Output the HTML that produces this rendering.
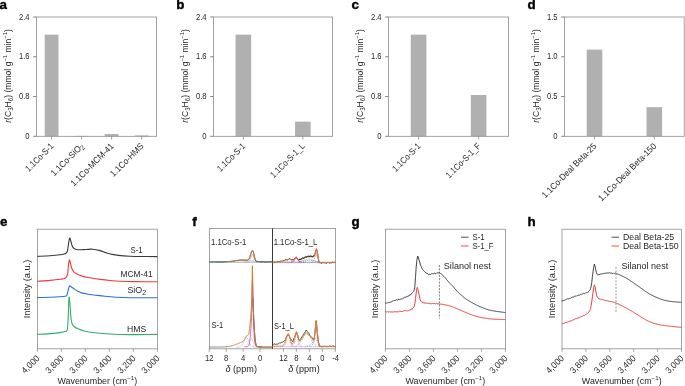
<!DOCTYPE html>
<html><head><meta charset="utf-8"><style>
html,body{margin:0;padding:0;background:#fff;}
body{width:685px;height:386px;overflow:hidden;}
svg{display:block;font-family:"Liberation Sans", sans-serif;will-change:transform;}
</style></head><body>
<svg width="685" height="386" viewBox="0 0 685 386">
<rect width="685" height="386" fill="#fff"/>
<text x="-0.6" y="9" font-size="12.5" text-anchor="start" font-weight="bold" fill="#000" stroke="#000" stroke-width="0.35" textLength="7.44" lengthAdjust="spacingAndGlyphs">a</text>
<text transform="translate(10.6,76) rotate(-90)" font-size="8.8" text-anchor="middle" fill="#231f20" textLength="93.5" lengthAdjust="spacingAndGlyphs"><tspan font-style="italic">r</tspan>(C<tspan font-size="6.4" dy="2.4">3</tspan><tspan dy="-2.4">H</tspan><tspan font-size="6.4" dy="2.4">6</tspan><tspan dy="-2.4">) (mmol g</tspan><tspan font-size="6.0" dy="-3.5">−1</tspan><tspan dy="3.5"> min</tspan><tspan font-size="6.0" dy="-3.5">−1</tspan><tspan dy="3.5">)</tspan></text>
<rect x="44.7" y="34.65" width="13.8" height="101.65" fill="#b0b0b0"/>
<line x1="51.6" y1="136.3" x2="51.6" y2="139.5" stroke="#8c8c8c" stroke-width="0.8" />
<text transform="translate(54.2,146.7) rotate(-45)" font-size="8.9" text-anchor="end" fill="#231f20" textLength="36.12" lengthAdjust="spacingAndGlyphs">1.1Co-S-1</text>
<rect x="74.7" y="135.9" width="13.8" height="0.4" fill="#b0b0b0"/>
<line x1="81.6" y1="136.3" x2="81.6" y2="139.5" stroke="#8c8c8c" stroke-width="0.8" />
<text transform="translate(84.2,146.7) rotate(-45)" font-size="8.9" text-anchor="end" fill="#231f20" textLength="42.27" lengthAdjust="spacingAndGlyphs">1.1Co-SiO<tspan font-size="6.8" dy="2.0">2</tspan></text>
<rect x="104.7" y="134.06" width="13.8" height="2.24" fill="#b0b0b0"/>
<line x1="111.6" y1="136.3" x2="111.6" y2="139.5" stroke="#8c8c8c" stroke-width="0.8" />
<text transform="translate(114.2,146.7) rotate(-45)" font-size="8.9" text-anchor="end" fill="#231f20" textLength="56.73" lengthAdjust="spacingAndGlyphs">1.1Co-MCM-41</text>
<rect x="134.7" y="135.41" width="13.8" height="0.89" fill="#b0b0b0"/>
<line x1="141.6" y1="136.3" x2="141.6" y2="139.5" stroke="#8c8c8c" stroke-width="0.8" />
<text transform="translate(144.2,146.7) rotate(-45)" font-size="8.9" text-anchor="end" fill="#231f20" textLength="43.35" lengthAdjust="spacingAndGlyphs">1.1Co-HMS</text>
<line x1="33.2" y1="136.3" x2="36.6" y2="136.3" stroke="#666" stroke-width="0.8" />
<text x="29.6" y="138.8" font-size="8.5" text-anchor="end" font-weight="normal" fill="#231f20" textLength="4.25" lengthAdjust="spacingAndGlyphs">0</text>
<line x1="33.2" y1="96.53" x2="36.6" y2="96.53" stroke="#666" stroke-width="0.8" />
<text x="29.6" y="99.03" font-size="8.5" text-anchor="end" font-weight="normal" fill="#231f20" textLength="10.63" lengthAdjust="spacingAndGlyphs">0.8</text>
<line x1="33.2" y1="56.77" x2="36.6" y2="56.77" stroke="#666" stroke-width="0.8" />
<text x="29.6" y="59.27" font-size="8.5" text-anchor="end" font-weight="normal" fill="#231f20" textLength="10.63" lengthAdjust="spacingAndGlyphs">1.6</text>
<line x1="33.2" y1="17" x2="36.6" y2="17" stroke="#666" stroke-width="0.8" />
<text x="29.6" y="19.5" font-size="8.5" text-anchor="end" font-weight="normal" fill="#231f20" textLength="10.63" lengthAdjust="spacingAndGlyphs">2.4</text>
<rect x="36.6" y="17" width="120" height="119.3" fill="none" stroke="#8c8c8c" stroke-width="0.8"/>
<text x="176.2" y="9" font-size="12.5" text-anchor="start" font-weight="bold" fill="#000" stroke="#000" stroke-width="0.35" textLength="8.17" lengthAdjust="spacingAndGlyphs">b</text>
<text transform="translate(187.6,76) rotate(-90)" font-size="8.8" text-anchor="middle" fill="#231f20" textLength="93.5" lengthAdjust="spacingAndGlyphs"><tspan font-style="italic">r</tspan>(C<tspan font-size="6.4" dy="2.4">3</tspan><tspan dy="-2.4">H</tspan><tspan font-size="6.4" dy="2.4">6</tspan><tspan dy="-2.4">) (mmol g</tspan><tspan font-size="6.0" dy="-3.5">−1</tspan><tspan dy="3.5"> min</tspan><tspan font-size="6.0" dy="-3.5">−1</tspan><tspan dy="3.5">)</tspan></text>
<rect x="235.55" y="34.65" width="15.6" height="101.65" fill="#b0b0b0"/>
<line x1="243.35" y1="136.3" x2="243.35" y2="139.5" stroke="#8c8c8c" stroke-width="0.8" />
<text transform="translate(245.95,146.7) rotate(-45)" font-size="8.9" text-anchor="end" fill="#231f20" textLength="36.12" lengthAdjust="spacingAndGlyphs">1.1Co-S-1</text>
<rect x="295.05" y="121.64" width="15.6" height="14.66" fill="#b0b0b0"/>
<line x1="302.85" y1="136.3" x2="302.85" y2="139.5" stroke="#8c8c8c" stroke-width="0.8" />
<text transform="translate(305.45,146.7) rotate(-45)" font-size="8.9" text-anchor="end" fill="#231f20" textLength="44.94" lengthAdjust="spacingAndGlyphs">1.1Co-S-1_L</text>
<line x1="210.2" y1="136.3" x2="213.6" y2="136.3" stroke="#666" stroke-width="0.8" />
<text x="206.6" y="138.8" font-size="8.5" text-anchor="end" font-weight="normal" fill="#231f20" textLength="4.25" lengthAdjust="spacingAndGlyphs">0</text>
<line x1="210.2" y1="96.53" x2="213.6" y2="96.53" stroke="#666" stroke-width="0.8" />
<text x="206.6" y="99.03" font-size="8.5" text-anchor="end" font-weight="normal" fill="#231f20" textLength="10.63" lengthAdjust="spacingAndGlyphs">0.8</text>
<line x1="210.2" y1="56.77" x2="213.6" y2="56.77" stroke="#666" stroke-width="0.8" />
<text x="206.6" y="59.27" font-size="8.5" text-anchor="end" font-weight="normal" fill="#231f20" textLength="10.63" lengthAdjust="spacingAndGlyphs">1.6</text>
<line x1="210.2" y1="17" x2="213.6" y2="17" stroke="#666" stroke-width="0.8" />
<text x="206.6" y="19.5" font-size="8.5" text-anchor="end" font-weight="normal" fill="#231f20" textLength="10.63" lengthAdjust="spacingAndGlyphs">2.4</text>
<rect x="213.6" y="17" width="119" height="119.3" fill="none" stroke="#8c8c8c" stroke-width="0.8"/>
<text x="351.6" y="9" font-size="12.5" text-anchor="start" font-weight="bold" fill="#000" stroke="#000" stroke-width="0.35" textLength="7.44" lengthAdjust="spacingAndGlyphs">c</text>
<text transform="translate(362.6,76) rotate(-90)" font-size="8.8" text-anchor="middle" fill="#231f20" textLength="93.5" lengthAdjust="spacingAndGlyphs"><tspan font-style="italic">r</tspan>(C<tspan font-size="6.4" dy="2.4">3</tspan><tspan dy="-2.4">H</tspan><tspan font-size="6.4" dy="2.4">6</tspan><tspan dy="-2.4">) (mmol g</tspan><tspan font-size="6.0" dy="-3.5">−1</tspan><tspan dy="3.5"> min</tspan><tspan font-size="6.0" dy="-3.5">−1</tspan><tspan dy="3.5">)</tspan></text>
<rect x="410.8" y="34.65" width="15.6" height="101.65" fill="#b0b0b0"/>
<line x1="418.6" y1="136.3" x2="418.6" y2="139.5" stroke="#8c8c8c" stroke-width="0.8" />
<text transform="translate(421.2,146.7) rotate(-45)" font-size="8.9" text-anchor="end" fill="#231f20" textLength="36.12" lengthAdjust="spacingAndGlyphs">1.1Co-S-1</text>
<rect x="470.8" y="95.04" width="15.6" height="41.26" fill="#b0b0b0"/>
<line x1="478.6" y1="136.3" x2="478.6" y2="139.5" stroke="#8c8c8c" stroke-width="0.8" />
<text transform="translate(481.2,146.7) rotate(-45)" font-size="8.9" text-anchor="end" fill="#231f20" textLength="45.37" lengthAdjust="spacingAndGlyphs">1.1Co-S-1_F</text>
<line x1="385.2" y1="136.3" x2="388.6" y2="136.3" stroke="#666" stroke-width="0.8" />
<text x="381.6" y="138.8" font-size="8.5" text-anchor="end" font-weight="normal" fill="#231f20" textLength="4.25" lengthAdjust="spacingAndGlyphs">0</text>
<line x1="385.2" y1="96.53" x2="388.6" y2="96.53" stroke="#666" stroke-width="0.8" />
<text x="381.6" y="99.03" font-size="8.5" text-anchor="end" font-weight="normal" fill="#231f20" textLength="10.63" lengthAdjust="spacingAndGlyphs">0.8</text>
<line x1="385.2" y1="56.77" x2="388.6" y2="56.77" stroke="#666" stroke-width="0.8" />
<text x="381.6" y="59.27" font-size="8.5" text-anchor="end" font-weight="normal" fill="#231f20" textLength="10.63" lengthAdjust="spacingAndGlyphs">1.6</text>
<line x1="385.2" y1="17" x2="388.6" y2="17" stroke="#666" stroke-width="0.8" />
<text x="381.6" y="19.5" font-size="8.5" text-anchor="end" font-weight="normal" fill="#231f20" textLength="10.63" lengthAdjust="spacingAndGlyphs">2.4</text>
<rect x="388.6" y="17" width="120" height="119.3" fill="none" stroke="#8c8c8c" stroke-width="0.8"/>
<text x="527.6" y="9" font-size="12.5" text-anchor="start" font-weight="bold" fill="#000" stroke="#000" stroke-width="0.35" textLength="8.17" lengthAdjust="spacingAndGlyphs">d</text>
<text transform="translate(538.6,76) rotate(-90)" font-size="8.8" text-anchor="middle" fill="#231f20" textLength="93.5" lengthAdjust="spacingAndGlyphs"><tspan font-style="italic">r</tspan>(C<tspan font-size="6.4" dy="2.4">3</tspan><tspan dy="-2.4">H</tspan><tspan font-size="6.4" dy="2.4">6</tspan><tspan dy="-2.4">) (mmol g</tspan><tspan font-size="6.0" dy="-3.5">−1</tspan><tspan dy="3.5"> min</tspan><tspan font-size="6.0" dy="-3.5">−1</tspan><tspan dy="3.5">)</tspan></text>
<rect x="586.7" y="49.61" width="15.6" height="86.69" fill="#b0b0b0"/>
<line x1="594.5" y1="136.3" x2="594.5" y2="139.5" stroke="#8c8c8c" stroke-width="0.8" />
<text transform="translate(597.1,146.7) rotate(-45)" font-size="8.9" text-anchor="end" fill="#231f20" textLength="73.35" lengthAdjust="spacingAndGlyphs">1.1Co-Deal Beta-25</text>
<rect x="646.5" y="107.19" width="15.6" height="29.11" fill="#b0b0b0"/>
<line x1="654.3" y1="136.3" x2="654.3" y2="139.5" stroke="#8c8c8c" stroke-width="0.8" />
<text transform="translate(656.9,146.7) rotate(-45)" font-size="8.9" text-anchor="end" fill="#231f20" textLength="77.97" lengthAdjust="spacingAndGlyphs">1.1Co-Deal Beta-150</text>
<line x1="561.2" y1="136.3" x2="564.6" y2="136.3" stroke="#666" stroke-width="0.8" />
<text x="557.6" y="138.8" font-size="8.5" text-anchor="end" font-weight="normal" fill="#231f20" textLength="4.25" lengthAdjust="spacingAndGlyphs">0</text>
<line x1="561.2" y1="96.53" x2="564.6" y2="96.53" stroke="#666" stroke-width="0.8" />
<text x="557.6" y="99.03" font-size="8.5" text-anchor="end" font-weight="normal" fill="#231f20" textLength="10.63" lengthAdjust="spacingAndGlyphs">0.5</text>
<line x1="561.2" y1="56.77" x2="564.6" y2="56.77" stroke="#666" stroke-width="0.8" />
<text x="557.6" y="59.27" font-size="8.5" text-anchor="end" font-weight="normal" fill="#231f20" textLength="10.63" lengthAdjust="spacingAndGlyphs">1.0</text>
<line x1="561.2" y1="17" x2="564.6" y2="17" stroke="#666" stroke-width="0.8" />
<text x="557.6" y="19.5" font-size="8.5" text-anchor="end" font-weight="normal" fill="#231f20" textLength="10.63" lengthAdjust="spacingAndGlyphs">1.5</text>
<rect x="564.6" y="17" width="119.6" height="119.3" fill="none" stroke="#8c8c8c" stroke-width="0.8"/>
<text x="0" y="225.6" font-size="12.5" text-anchor="start" font-weight="bold" fill="#000" stroke="#000" stroke-width="0.35" textLength="7.44" lengthAdjust="spacingAndGlyphs">e</text>
<line x1="37.4" y1="348.8" x2="37.4" y2="351.8" stroke="#8c8c8c" stroke-width="0.8" />
<text transform="translate(40.1,358.9) rotate(-45)" font-size="9" text-anchor="end" fill="#231f20" textLength="21.39" lengthAdjust="spacingAndGlyphs">4,000</text>
<line x1="61.4" y1="348.8" x2="61.4" y2="351.8" stroke="#8c8c8c" stroke-width="0.8" />
<text transform="translate(64.1,358.9) rotate(-45)" font-size="9" text-anchor="end" fill="#231f20" textLength="21.39" lengthAdjust="spacingAndGlyphs">3,800</text>
<line x1="85.4" y1="348.8" x2="85.4" y2="351.8" stroke="#8c8c8c" stroke-width="0.8" />
<text transform="translate(88.1,358.9) rotate(-45)" font-size="9" text-anchor="end" fill="#231f20" textLength="21.39" lengthAdjust="spacingAndGlyphs">3,600</text>
<line x1="109.4" y1="348.8" x2="109.4" y2="351.8" stroke="#8c8c8c" stroke-width="0.8" />
<text transform="translate(112.1,358.9) rotate(-45)" font-size="9" text-anchor="end" fill="#231f20" textLength="21.39" lengthAdjust="spacingAndGlyphs">3,400</text>
<line x1="133.4" y1="348.8" x2="133.4" y2="351.8" stroke="#8c8c8c" stroke-width="0.8" />
<text transform="translate(136.1,358.9) rotate(-45)" font-size="9" text-anchor="end" fill="#231f20" textLength="21.39" lengthAdjust="spacingAndGlyphs">3,200</text>
<line x1="157.4" y1="348.8" x2="157.4" y2="351.8" stroke="#8c8c8c" stroke-width="0.8" />
<text transform="translate(160.1,358.9) rotate(-45)" font-size="9" text-anchor="end" fill="#231f20" textLength="21.39" lengthAdjust="spacingAndGlyphs">3,000</text>
<text x="97.4" y="383.6" font-size="8.6" text-anchor="middle" font-weight="normal" fill="#231f20" textLength="79.8" lengthAdjust="spacingAndGlyphs">Wavenumber (cm<tspan font-size="6.0" dy="-3.5">−1</tspan><tspan dy="3.5">)</tspan></text>
<text transform="translate(30.2,289) rotate(-90)" font-size="8.6" text-anchor="middle" fill="#231f20" textLength="58.5" lengthAdjust="spacingAndGlyphs">Intensity (a.u.)</text>
<rect x="37.4" y="229.2" width="120" height="119.6" fill="none" stroke="#8c8c8c" stroke-width="0.8"/>
<path d="M37.4,256.4C39.5,256.3 46.23,256.07 50,255.8C53.77,255.53 57.5,255.13 60,254.8C62.5,254.47 63.78,254.35 65,253.8C66.22,253.25 66.72,253.13 67.3,251.5C67.88,249.87 68.12,246.25 68.5,244C68.88,241.75 69.22,238.5 69.6,238C69.98,237.5 70.4,239.75 70.8,241C71.2,242.25 71.55,244.33 72,245.5C72.45,246.67 72.92,247.38 73.5,248C74.08,248.62 74.42,248.9 75.5,249.2C76.58,249.5 78.25,249.75 80,249.8C81.75,249.85 83.88,249.6 86,249.5C88.12,249.4 90.37,249.02 92.7,249.2C95.03,249.38 97.67,249.97 100,250.6C102.33,251.23 104.7,252.37 106.7,253C108.7,253.63 110.05,254 112,254.4C113.95,254.8 115.4,255.1 118.4,255.4C121.4,255.7 126.4,256.02 130,256.2C133.6,256.38 135.43,256.43 140,256.5C144.57,256.57 154.5,256.58 157.4,256.6" fill="none" stroke="#3a3a3a" stroke-width="1.1" stroke-linejoin="round" />
<path d="M37.4,281.3C39.5,281.15 46.23,280.73 50,280.4C53.77,280.07 57.5,279.67 60,279.3C62.5,278.93 63.77,278.92 65,278.2C66.23,277.48 66.83,277.03 67.4,275C67.97,272.97 68.08,268.5 68.4,266C68.72,263.5 69,260.67 69.3,260C69.6,259.33 69.83,260.75 70.2,262C70.57,263.25 70.97,265.93 71.5,267.5C72.03,269.07 72.65,270.38 73.4,271.4C74.15,272.42 74.45,272.77 76,273.6C77.55,274.43 80.37,275.7 82.7,276.4C85.03,277.1 87.07,277.3 90,277.8C92.93,278.3 96.97,278.95 100.3,279.4C103.63,279.85 106.72,280.2 110,280.5C113.28,280.8 115.83,281.02 120,281.2C124.17,281.38 128.77,281.5 135,281.6C141.23,281.7 153.67,281.77 157.4,281.8" fill="none" stroke="#ec3b3b" stroke-width="1.1" stroke-linejoin="round" />
<path d="M37.4,297.6C39.5,297.55 46.23,297.43 50,297.3C53.77,297.17 57.5,296.97 60,296.8C62.5,296.63 63.9,296.5 65,296.3C66.1,296.1 66.13,296.32 66.6,295.6C67.07,294.88 67.45,293.27 67.8,292C68.15,290.73 68.4,289.03 68.7,288C69,286.97 69.22,286 69.6,285.8C69.98,285.6 70.27,286.3 71,286.8C71.73,287.3 72.83,288.05 74,288.8C75.17,289.55 76.73,290.62 78,291.3C79.27,291.98 79.93,292.42 81.6,292.9C83.27,293.38 85.87,293.85 88,294.2C90.13,294.55 91.57,294.65 94.4,295C97.23,295.35 101.4,295.93 105,296.3C108.6,296.67 111.83,296.97 116,297.2C120.17,297.43 123.1,297.6 130,297.7C136.9,297.8 152.83,297.78 157.4,297.8" fill="none" stroke="#2f6fd8" stroke-width="1.1" stroke-linejoin="round" />
<path d="M37.4,334.4C39.5,334.27 46.23,333.9 50,333.6C53.77,333.3 57.5,332.95 60,332.6C62.5,332.25 63.8,331.93 65,331.5C66.2,331.07 66.68,331.92 67.2,330C67.72,328.08 67.8,325.4 68.1,320C68.4,314.6 68.68,300.1 69,297.6C69.32,295.1 69.67,301.6 70,305C70.33,308.4 70.67,314.92 71,318C71.33,321.08 71.5,322.08 72,323.5C72.5,324.92 73,325.62 74,326.5C75,327.38 76.33,328.05 78,328.8C79.67,329.55 81.17,330.33 84,331C86.83,331.67 90.67,332.3 95,332.8C99.33,333.3 104.17,333.7 110,334C115.83,334.3 122.1,334.53 130,334.6C137.9,334.67 152.83,334.43 157.4,334.4" fill="none" stroke="#34ad6a" stroke-width="1.1" stroke-linejoin="round" />
<text x="130.5" y="253.3" font-size="8.6" text-anchor="start" font-weight="normal" fill="#231f20" textLength="12.2" lengthAdjust="spacingAndGlyphs">S-1</text>
<text x="120.4" y="277.3" font-size="8.6" text-anchor="start" font-weight="normal" fill="#231f20" textLength="32.2" lengthAdjust="spacingAndGlyphs">MCM-41</text>
<text x="127.4" y="292.8" font-size="8.6" text-anchor="start" font-weight="normal" fill="#231f20" textLength="18.8" lengthAdjust="spacingAndGlyphs">SiO<tspan font-size="6.8" dy="2.0">2</tspan></text>
<text x="127" y="331.6" font-size="8.6" text-anchor="start" font-weight="normal" fill="#231f20" textLength="19.2" lengthAdjust="spacingAndGlyphs">HMS</text>
<text x="192.3" y="225.6" font-size="12.5" text-anchor="start" font-weight="bold" fill="#000" stroke="#000" stroke-width="0.35" textLength="4.45" lengthAdjust="spacingAndGlyphs">f</text>
<rect x="209.4" y="228.4" width="126.1" height="120.4" fill="none" stroke="#8c8c8c" stroke-width="0.8"/>
<line x1="209.4" y1="262.2" x2="335.5" y2="262.2" stroke="#9aa0a0" stroke-width="0.8" />
<line x1="272.5" y1="228.4" x2="272.5" y2="348.8" stroke="#222" stroke-width="0.9" />
<line x1="209.3" y1="348.8" x2="209.3" y2="351.8" stroke="#8c8c8c" stroke-width="0.8" />
<text x="209.3" y="360.6" font-size="8.5" text-anchor="middle" font-weight="normal" fill="#231f20" textLength="8.51" lengthAdjust="spacingAndGlyphs">12</text>
<line x1="226.2" y1="348.8" x2="226.2" y2="351.8" stroke="#8c8c8c" stroke-width="0.8" />
<text x="226.2" y="360.6" font-size="8.5" text-anchor="middle" font-weight="normal" fill="#231f20" textLength="4.25" lengthAdjust="spacingAndGlyphs">8</text>
<line x1="243.1" y1="348.8" x2="243.1" y2="351.8" stroke="#8c8c8c" stroke-width="0.8" />
<text x="243.1" y="360.6" font-size="8.5" text-anchor="middle" font-weight="normal" fill="#231f20" textLength="4.25" lengthAdjust="spacingAndGlyphs">4</text>
<line x1="260" y1="348.8" x2="260" y2="351.8" stroke="#8c8c8c" stroke-width="0.8" />
<text x="260" y="360.6" font-size="8.5" text-anchor="middle" font-weight="normal" fill="#231f20" textLength="4.25" lengthAdjust="spacingAndGlyphs">0</text>
<line x1="283.4" y1="348.8" x2="283.4" y2="351.8" stroke="#8c8c8c" stroke-width="0.8" />
<text x="283.4" y="360.6" font-size="8.5" text-anchor="middle" font-weight="normal" fill="#231f20" textLength="8.51" lengthAdjust="spacingAndGlyphs">12</text>
<line x1="296.38" y1="348.8" x2="296.38" y2="351.8" stroke="#8c8c8c" stroke-width="0.8" />
<text x="296.38" y="360.6" font-size="8.5" text-anchor="middle" font-weight="normal" fill="#231f20" textLength="4.25" lengthAdjust="spacingAndGlyphs">8</text>
<line x1="309.36" y1="348.8" x2="309.36" y2="351.8" stroke="#8c8c8c" stroke-width="0.8" />
<text x="309.36" y="360.6" font-size="8.5" text-anchor="middle" font-weight="normal" fill="#231f20" textLength="4.25" lengthAdjust="spacingAndGlyphs">4</text>
<line x1="322.34" y1="348.8" x2="322.34" y2="351.8" stroke="#8c8c8c" stroke-width="0.8" />
<text x="322.34" y="360.6" font-size="8.5" text-anchor="middle" font-weight="normal" fill="#231f20" textLength="4.25" lengthAdjust="spacingAndGlyphs">0</text>
<line x1="335.32" y1="348.8" x2="335.32" y2="351.8" stroke="#8c8c8c" stroke-width="0.8" />
<text x="335.62" y="360.6" font-size="8.5" text-anchor="middle" font-weight="normal" fill="#231f20" textLength="6.8" lengthAdjust="spacingAndGlyphs">-4</text>
<text x="241.2" y="372" font-size="8.6" text-anchor="middle" font-weight="normal" fill="#231f20" textLength="31.5" lengthAdjust="spacingAndGlyphs"><tspan font-style="italic">δ</tspan> (ppm)</text>
<text x="304" y="372" font-size="8.6" text-anchor="middle" font-weight="normal" fill="#231f20" textLength="31.5" lengthAdjust="spacingAndGlyphs"><tspan font-style="italic">δ</tspan> (ppm)</text>
<text x="211" y="245.2" font-size="8.6" text-anchor="start" font-weight="normal" fill="#231f20" textLength="35.3" lengthAdjust="spacingAndGlyphs">1.1Co-S-1</text>
<text x="273.7" y="245.2" font-size="8.6" text-anchor="start" font-weight="normal" fill="#231f20" textLength="43.6" lengthAdjust="spacingAndGlyphs">1.1Co-S-1_L</text>
<text x="211.5" y="328.4" font-size="8.6" text-anchor="start" font-weight="normal" fill="#231f20" textLength="11.7" lengthAdjust="spacingAndGlyphs">S-1</text>
<text x="274" y="328.6" font-size="8.6" text-anchor="start" font-weight="normal" fill="#231f20" textLength="19.9" lengthAdjust="spacingAndGlyphs">S-1_L</text>
<path d="M215,261.8 L215.25,261.8 L215.5,261.8 L215.75,261.8 L216,261.8 L216.25,261.8 L216.5,261.8 L216.75,261.8 L217,261.79 L217.25,261.79 L217.5,261.79 L217.75,261.79 L218,261.79 L218.25,261.79 L218.5,261.79 L218.75,261.79 L219,261.79 L219.25,261.79 L219.5,261.79 L219.75,261.78 L220,261.78 L220.25,261.78 L220.5,261.78 L220.75,261.78 L221,261.77 L221.25,261.77 L221.5,261.77 L221.75,261.77 L222,261.76 L222.25,261.76 L222.5,261.76 L222.75,261.75 L223,261.75 L223.25,261.74 L223.5,261.74 L223.75,261.74 L224,261.73 L224.25,261.72 L224.5,261.72 L224.75,261.71 L225,261.7 L225.25,261.7 L225.5,261.69 L225.75,261.68 L226,261.67 L226.25,261.66 L226.5,261.65 L226.75,261.64 L227,261.63 L227.25,261.62 L227.5,261.61 L227.75,261.6 L228,261.58 L228.25,261.57 L228.5,261.56 L228.75,261.54 L229,261.52 L229.25,261.51 L229.5,261.49 L229.75,261.47 L230,261.45 L230.25,261.43 L230.5,261.41 L230.75,261.39 L231,261.37 L231.25,261.35 L231.5,261.33 L231.75,261.3 L232,261.28 L232.25,261.26 L232.5,261.23 L232.75,261.2 L233,261.18 L233.25,261.15 L233.5,261.12 L233.75,261.1 L234,261.07 L234.25,261.04 L234.5,261.01 L234.75,260.98 L235,260.95 L235.25,260.92 L235.5,260.89 L235.75,260.86 L236,260.83 L236.25,260.8 L236.5,260.77 L236.75,260.74 L237,260.71 L237.25,260.68 L237.5,260.65 L237.75,260.62 L238,260.59 L238.25,260.56 L238.5,260.54 L238.75,260.51 L239,260.48 L239.25,260.46 L239.5,260.43 L239.75,260.41 L240,260.39 L240.25,260.37 L240.5,260.35 L240.75,260.33 L241,260.31 L241.25,260.29 L241.5,260.28 L241.75,260.26 L242,260.25 L242.25,260.24 L242.5,260.23 L242.75,260.22 L243,260.21 L243.25,260.21 L243.5,260.2 L243.75,260.2 L244,260.2 L244.25,260.2 L244.5,260.2 L244.75,260.21 L245,260.21 L245.25,260.22 L245.5,260.23 L245.75,260.24 L246,260.25 L246.25,260.26 L246.5,260.28 L246.75,260.29 L247,260.31 L247.25,260.33 L247.5,260.35 L247.75,260.37 L248,260.39 L248.25,260.41 L248.5,260.43 L248.75,260.46 L249,260.48 L249.25,260.51 L249.5,260.54 L249.75,260.56 L250,260.59 L250.25,260.62 L250.5,260.65 L250.75,260.68 L251,260.71 L251.25,260.74 L251.5,260.77 L251.75,260.8 L252,260.83 L252.25,260.86 L252.5,260.89 L252.75,260.92 L253,260.95 L253.25,260.98 L253.5,261.01 L253.75,261.04 L254,261.07 L254.25,261.1 L254.5,261.12 L254.75,261.15 L255,261.18 L255.25,261.2 L255.5,261.23 L255.75,261.26 L256,261.28 L256.25,261.3 L256.5,261.33 L256.75,261.35 L257,261.37 L257.25,261.39 L257.5,261.41 L257.75,261.43 L258,261.45 L258.25,261.47 L258.5,261.49 L258.75,261.51 L259,261.52 L259.25,261.54 L259.5,261.56 L259.75,261.57 L260,261.58 L260.25,261.6 L260.5,261.61 L260.75,261.62 L261,261.63 L261.25,261.64 L261.5,261.65 L261.75,261.66 L262,261.67 L262.25,261.68 L262.5,261.69 L262.75,261.7 L263,261.7 L263.25,261.71 L263.5,261.72 L263.75,261.72 L264,261.73 L264.25,261.74 L264.5,261.74 L264.75,261.74 L265,261.75 L265.25,261.75 L265.5,261.76 L265.75,261.76 L266,261.76 L266.25,261.77 L266.5,261.77 L266.75,261.77 L267,261.77 L267.25,261.78 L267.5,261.78 L267.75,261.78 L268,261.78 L268.25,261.78 L268.5,261.79 L268.75,261.79 L269,261.79 L269.25,261.79 L269.5,261.79 L269.75,261.79 L270,261.79 L270.25,261.79 L270.5,261.79 L270.75,261.79 L271,261.79 L271.25,261.8 L271.5,261.8 L271.75,261.8 L272,261.8 L272.25,261.8 L272.3,261.8" fill="none" stroke="#7fc0e0" stroke-width="0.7" stroke-linejoin="round" />
<path d="M244,261.8 L244.25,261.8 L244.5,261.8 L244.75,261.8 L245,261.8 L245.25,261.8 L245.5,261.8 L245.75,261.8 L246,261.8 L246.25,261.8 L246.5,261.79 L246.75,261.79 L247,261.78 L247.25,261.77 L247.5,261.75 L247.75,261.72 L248,261.68 L248.25,261.61 L248.5,261.52 L248.75,261.39 L249,261.2 L249.25,260.96 L249.5,260.65 L249.75,260.27 L250,259.8 L250.25,259.25 L250.5,258.63 L250.75,257.96 L251,257.25 L251.25,256.55 L251.5,255.88 L251.75,255.29 L252,254.81 L252.25,254.48 L252.5,254.31 L252.75,254.36 L253,254.71 L253.25,255.32 L253.5,256.14 L253.75,257.06 L254,258 L254.25,258.89 L254.5,259.66 L254.75,260.29 L255,260.78 L255.25,261.15 L255.5,261.4 L255.75,261.56 L256,261.66 L256.25,261.73 L256.5,261.76 L256.75,261.78 L257,261.79 L257.25,261.8 L257.5,261.8 L257.75,261.8 L258,261.8 L258.25,261.8 L258.5,261.8 L258.75,261.8 L259,261.8 L259.25,261.8 L259.5,261.8 L259.75,261.8 L260,261.8 L260.25,261.8 L260.5,261.8 L260.75,261.8 L261,261.8 L261.25,261.8 L261.5,261.8 L261.75,261.8 L262,261.8" fill="none" stroke="#e86aa8" stroke-width="0.55" stroke-linejoin="round" />
<path d="M209.6,261.82 L210.3,261.97 L211,261.88 L211.7,262 L212.4,262.01 L213.1,261.73 L213.8,261.71 L214.5,262.12 L215.2,261.83 L215.9,261.81 L216.6,262.19 L217.3,261.93 L218,262.11 L218.7,261.93 L219.4,262.01 L220.1,261.76 L220.8,261.99 L221.5,262.1 L222.2,261.92 L222.9,262.02 L223.6,261.97 L224.3,261.65 L225,261.97 L225.7,261.86 L226.4,261.69 L227.1,261.51 L227.8,261.89 L228.5,261.64 L229.2,261.71 L229.9,261.73 L230.6,261.57 L231.3,261.6 L232,261.25 L232.7,261.36 L233.4,261.08 L234.1,261.23 L234.8,261.09 L235.5,260.6 L236.2,260.51 L236.9,260.44 L237.6,260.72 L238.3,260.36 L239,260.37 L239.7,260.13 L240.4,260.16 L241.1,260.05 L241.8,260 L242.5,260.1 L243.2,260.09 L243.9,260.27 L244.6,260.18 L245.3,260.35 L246,260.35 L246.7,260.43 L247.4,260.19 L248.1,259.63 L248.8,259.29 L249.5,258.08 L250.2,256.18 L250.9,253.79 L251.6,251.84 L252.3,250.46 L253,251.16 L253.7,253.52 L254.4,256.61 L255.1,259.06 L255.8,260.91 L256.5,261.6 L257.2,261.38 L257.9,261.83 L258.6,261.69 L259.3,261.6 L260,261.7 L260.7,261.97 L261.4,262.04 L262.1,261.65 L262.8,261.95 L263.5,261.68 L264.2,262.02 L264.9,261.84 L265.6,262.12 L266.3,262.18 L267,261.94 L267.7,262.19 L268.4,261.85 L269.1,261.73 L269.8,262 L270.5,261.71 L271.2,261.8 L271.9,261.9 L272.3,262" fill="none" stroke="#3d4a4a" stroke-width="0.8" stroke-linejoin="round" />
<path d="M226,261.65 L226.25,261.64 L226.5,261.63 L226.75,261.62 L227,261.6 L227.25,261.59 L227.5,261.58 L227.75,261.56 L228,261.54 L228.25,261.53 L228.5,261.51 L228.75,261.49 L229,261.47 L229.25,261.45 L229.5,261.42 L229.75,261.4 L230,261.38 L230.25,261.35 L230.5,261.33 L230.75,261.3 L231,261.27 L231.25,261.24 L231.5,261.21 L231.75,261.18 L232,261.15 L232.25,261.12 L232.5,261.09 L232.75,261.05 L233,261.02 L233.25,260.98 L233.5,260.95 L233.75,260.91 L234,260.88 L234.25,260.84 L234.5,260.8 L234.75,260.76 L235,260.72 L235.25,260.69 L235.5,260.65 L235.75,260.61 L236,260.57 L236.25,260.53 L236.5,260.49 L236.75,260.46 L237,260.42 L237.25,260.38 L237.5,260.35 L237.75,260.31 L238,260.28 L238.25,260.25 L238.5,260.21 L238.75,260.18 L239,260.15 L239.25,260.12 L239.5,260.1 L239.75,260.07 L240,260.05 L240.25,260.02 L240.5,260 L240.75,259.98 L241,259.97 L241.25,259.95 L241.5,259.94 L241.75,259.93 L242,259.92 L242.25,259.91 L242.5,259.9 L242.75,259.9 L243,259.9 L243.25,259.9 L243.5,259.9 L243.75,259.91 L244,259.92 L244.25,259.93 L244.5,259.94 L244.75,259.95 L245,259.96 L245.25,259.98 L245.5,259.99 L245.75,260.01 L246,260.02 L246.25,260.03 L246.5,260.03 L246.75,260.03 L247,260.01 L247.25,259.98 L247.5,259.92 L247.75,259.84 L248,259.71 L248.25,259.54 L248.5,259.31 L248.75,259.02 L249,258.66 L249.25,258.22 L249.5,257.69 L249.75,257.09 L250,256.41 L250.25,255.68 L250.5,254.89 L250.75,254.09 L251,253.29" fill="none" stroke="#cc7d33" stroke-width="0.95" stroke-linejoin="round" />
<path d="M251,253.29 L251.25,252.53 L251.5,251.84 L251.75,251.25 L252,250.79 L252.25,250.49 L252.5,250.36 L252.75,250.44 L253,250.84 L253.25,251.54 L253.5,252.47 L253.75,253.56 L254,254.72 L254.25,255.89 L254.5,256.99 L254.75,257.98 L255,258.83 L255.25,259.53 L255.5,260.09 L255.75,260.51 L256,260.82 L256.25,261.05 L256.5,261.21" fill="none" stroke="#cc7d33" stroke-width="1" stroke-linejoin="round" />
<path d="M209.6,261.8 L209.85,261.8 L210.1,261.8 L210.35,261.8 L210.6,261.8 L210.85,261.8 L211.1,261.8 L211.35,261.8 L211.6,261.8 L211.85,261.8 L212.1,261.8 L212.35,261.8 L212.6,261.8 L212.85,261.8 L213.1,261.8 L213.35,261.8 L213.6,261.8 L213.85,261.8 L214.1,261.8 L214.35,261.8 L214.6,261.8 L214.85,261.8 L215.1,261.8 L215.35,261.8 L215.6,261.8 L215.85,261.8 L216.1,261.8 L216.35,261.8 L216.6,261.8 L216.85,261.8 L217.1,261.8 L217.35,261.79 L217.6,261.79 L217.85,261.79 L218.1,261.79 L218.35,261.79 L218.6,261.79 L218.85,261.79 L219.1,261.79 L219.35,261.79 L219.6,261.79 L219.85,261.78 L220.1,261.78 L220.35,261.78 L220.6,261.78 L220.85,261.78 L221.1,261.77 L221.35,261.77 L221.6,261.77 L221.85,261.76 L222.1,261.76 L222.35,261.76 L222.6,261.75 L222.85,261.75 L223.1,261.74 L223.35,261.74 L223.6,261.73 L223.85,261.73 L224.1,261.72 L224.35,261.71 L224.6,261.71 L224.85,261.7 L225.1,261.69 L225.35,261.68 L225.6,261.67 L225.85,261.66 L226.1,261.65 L226.35,261.64 L226.6,261.63 L226.85,261.61 L227,261.6" fill="none" stroke="#627a78" stroke-width="0.95" stroke-linejoin="round" />
<path d="M256,260.82 L256.25,261.05 L256.5,261.21 L256.75,261.32 L257,261.39 L257.25,261.44 L257.5,261.48 L257.75,261.51 L258,261.54 L258.25,261.56 L258.5,261.57 L258.75,261.59 L259,261.6 L259.25,261.62 L259.5,261.63 L259.75,261.64 L260,261.65 L260.25,261.67 L260.5,261.68 L260.75,261.68 L261,261.69 L261.25,261.7 L261.5,261.71 L261.75,261.72 L262,261.72 L262.25,261.73 L262.5,261.74 L262.75,261.74 L263,261.75 L263.25,261.75 L263.5,261.75 L263.75,261.76 L264,261.76 L264.25,261.77 L264.5,261.77 L264.75,261.77 L265,261.77 L265.25,261.78 L265.5,261.78 L265.75,261.78 L266,261.78 L266.25,261.78 L266.5,261.79 L266.75,261.79 L267,261.79 L267.25,261.79 L267.5,261.79 L267.75,261.79 L268,261.79 L268.25,261.79 L268.5,261.79 L268.75,261.79 L269,261.8 L269.25,261.8 L269.5,261.8 L269.75,261.8 L270,261.8 L270.25,261.8 L270.5,261.8 L270.75,261.8 L271,261.8 L271.25,261.8 L271.5,261.8 L271.75,261.8 L272,261.8 L272.25,261.8 L272.3,261.8" fill="none" stroke="#56706e" stroke-width="0.95" stroke-linejoin="round" />
<path d="M236,347 L236.25,347 L236.5,347 L236.75,347 L237,346.99 L237.25,346.99 L237.5,346.99 L237.75,346.98 L238,346.98 L238.25,346.97 L238.5,346.95 L238.75,346.93 L239,346.91 L239.25,346.87 L239.5,346.83 L239.75,346.77 L240,346.7 L240.25,346.6 L240.5,346.49 L240.75,346.34 L241,346.17 L241.25,345.96 L241.5,345.71 L241.75,345.43 L242,345.09 L242.25,344.71 L242.5,344.29 L242.75,343.82 L243,343.31 L243.25,342.76 L243.5,342.19 L243.75,341.6 L244,341 L244.25,340.4 L244.5,339.83 L244.75,339.29 L245,338.8 L245.25,338.37 L245.5,338.01 L245.75,337.75 L246,337.57 L246.25,337.5 L246.5,337.53 L246.75,337.67 L247,337.9 L247.25,338.22 L247.5,338.62 L247.75,339.08 L248,339.61 L248.25,340.17 L248.5,340.76 L248.75,341.36 L249,341.95 L249.25,342.54 L249.5,343.09 L249.75,343.62 L250,344.11 L250.25,344.55 L250.5,344.95 L250.75,345.3 L251,345.6 L251.25,345.87 L251.5,346.09 L251.75,346.28 L252,346.43 L252.25,346.56 L252.5,346.66 L252.75,346.74 L253,346.81 L253.25,346.86 L253.5,346.89 L253.75,346.92 L254,346.94 L254.25,346.96 L254.5,346.97 L254.75,346.98 L255,346.99 L255.25,346.99 L255.5,346.99 L255.75,347 L256,347 L256.25,347 L256.5,347 L256.75,347 L257,347" fill="none" stroke="#8fc1ea" stroke-width="0.7" stroke-linejoin="round" />
<path d="M246,347 L246.25,347 L246.5,346.99 L246.75,346.99 L247,346.98 L247.25,346.96 L247.5,346.92 L247.75,346.86 L248,346.76 L248.25,346.6 L248.5,346.37 L248.75,346.04 L249,345.58 L249.25,344.99 L249.5,344.24 L249.75,343.36 L250,342.37 L250.25,341.33 L250.5,340.3 L250.75,339.38 L251,338.64 L251.25,338.16 L251.5,338 L251.75,338.16 L252,338.64 L252.25,339.38 L252.5,340.3 L252.75,341.33 L253,342.37 L253.25,343.36 L253.5,344.24 L253.75,344.99 L254,345.58 L254.25,346.04 L254.5,346.37 L254.75,346.6 L255,346.76 L255.25,346.86 L255.5,346.92 L255.75,346.96 L256,346.98 L256.25,346.99 L256.5,346.99 L256.75,347 L257,347" fill="none" stroke="#d08ad8" stroke-width="0.6" stroke-linejoin="round" stroke-dasharray="0.8,0.8"/>
<path d="M244,346.86 L244.15,346.85 L244.3,346.84 L244.45,346.84 L244.6,346.83 L244.75,346.83 L244.9,346.82 L245.05,346.81 L245.2,346.8 L245.35,346.8 L245.5,346.79 L245.65,346.78 L245.8,346.77 L245.95,346.75 L246.1,346.74 L246.25,346.73 L246.4,346.71 L246.55,346.7 L246.7,346.68 L246.85,346.65 L247,346.62 L247.15,346.59 L247.3,346.55 L247.45,346.5 L247.6,346.44 L247.75,346.37 L247.9,346.27 L248.05,346.16 L248.2,346.01 L248.35,345.83 L248.5,345.61 L248.65,345.34 L248.8,345.01 L248.95,344.6 L249.1,344.12 L249.25,343.54 L249.4,342.86 L249.55,342.07 L249.7,341.15 L249.85,340.1 L250,338.9 L250.15,337.56 L250.3,336.07 L250.45,334.42 L250.6,332.62 L250.75,330.67 L250.9,328.54 L251.05,326.24 L251.2,323.73 L251.35,320.94 L251.5,317.78 L251.65,314.06 L251.8,309.49 L251.95,303.69 L252.1,296.3 L252.25,287.76 L252.4,280.67 L252.55,279.44 L252.7,285.22 L252.85,294.1 L253,302.55 L253.15,309.55 L253.3,315.24 L253.45,319.98 L253.6,324.04 L253.75,327.57 L253.9,330.68 L254.05,333.41 L254.2,335.78 L254.35,337.82 L254.5,339.55 L254.65,341 L254.8,342.18 L254.95,343.14 L255.1,343.91 L255.25,344.51 L255.4,344.98 L255.55,345.34 L255.7,345.62 L255.85,345.83 L256,346 L256.15,346.12 L256.3,346.22 L256.45,346.3 L256.6,346.36 L256.75,346.41 L256.9,346.46 L257.05,346.49 L257.2,346.53 L257.35,346.56 L257.5,346.58 L257.65,346.61 L257.8,346.63 L257.95,346.65 L258.1,346.67 L258.25,346.68 L258.4,346.7 L258.55,346.72 L258.7,346.73 L258.85,346.74 L259,346.75 L259.15,346.76 L259.3,346.77 L259.45,346.78 L259.6,346.79 L259.75,346.8 L259.9,346.81 L260.05,346.82 L260.2,346.82 L260.35,346.83 L260.5,346.84 L260.65,346.84 L260.8,346.85 L260.95,346.85 L261.1,346.86 L261.25,346.86 L261.4,346.87 L261.55,346.87 L261.7,346.88 L261.85,346.88 L262,346.88 L262,346.88" fill="none" stroke="#e0529c" stroke-width="0.9" stroke-linejoin="round" />
<path d="M253,297.61 L253.15,303.38 L253.3,308.02 L253.45,311.94 L253.6,315.43 L253.75,318.62 L253.9,321.59 L254.05,324.38 L254.2,326.99 L254.35,329.43 L254.5,331.69 L254.65,333.76 L254.8,335.64 L254.95,337.34 L255.1,338.85 L255.25,340.17 L255.4,341.33 L255.55,342.32 L255.7,343.17 L255.85,343.89 L256,344.48 L256.15,344.98 L256.3,345.38 L256.45,345.71 L256.6,345.97 L256.75,346.19 L256.9,346.35 L257.05,346.49 L257.2,346.59 L257.35,346.68 L257.5,346.74 L257.65,346.79 L257.8,346.83 L257.95,346.87 L258.1,346.89 L258.25,346.92 L258.4,346.94 L258.55,346.95 L258.7,346.97 L258.85,346.98 L259,346.99 L259.15,347 L259.3,347.01 L259.45,347.02 L259.6,347.02 L259.75,347.03 L259.9,347.04 L260.05,347.04 L260.2,347.05 L260.35,347.06 L260.5,347.06 L260.65,347.07 L260.8,347.07 L260.95,347.08 L261.1,347.08 L261.25,347.08 L261.4,347.09 L261.55,347.09 L261.7,347.09 L261.85,347.1 L262,347.1 L262.15,347.1 L262.3,347.11 L262.45,347.11 L262.6,347.11 L262.75,347.12 L262.9,347.12 L263.05,347.12 L263.2,347.12 L263.35,347.12 L263.5,347.13 L263.65,347.13 L263.8,347.13 L263.95,347.13 L264.1,347.13 L264.25,347.14 L264.4,347.14 L264.55,347.14 L264.7,347.14 L264.85,347.14 L265,347.14 L265.15,347.14 L265.3,347.15 L265.45,347.15 L265.6,347.15 L265.75,347.15 L265.9,347.15 L266.05,347.15 L266.2,347.15 L266.35,347.15 L266.5,347.15 L266.65,347.16 L266.8,347.16 L266.95,347.16 L267.1,347.16 L267.25,347.16 L267.4,347.16 L267.55,347.16 L267.7,347.16 L267.85,347.16 L268,347.16 L268.15,347.16 L268.3,347.16 L268.45,347.16 L268.6,347.17 L268.75,347.17 L268.9,347.17 L269.05,347.17 L269.2,347.17 L269.35,347.17 L269.5,347.17 L269.65,347.17 L269.8,347.17 L269.95,347.17 L270.1,347.17 L270.25,347.17 L270.4,347.17 L270.55,347.17 L270.7,347.17 L270.85,347.17 L271,347.17 L271.15,347.17 L271.3,347.17 L271.45,347.17 L271.6,347.18 L271.75,347.18 L271.9,347.18 L272.05,347.18 L272.2,347.18 L272.3,347.18" fill="none" stroke="#3a3040" stroke-width="0.8" stroke-linejoin="round" />
<path d="M226,346.75 L226.1,346.74 L226.2,346.73 L226.3,346.72 L226.4,346.71 L226.5,346.7 L226.6,346.7 L226.7,346.69 L226.8,346.68 L226.9,346.67 L227,346.66 L227.1,346.65 L227.2,346.64 L227.3,346.63 L227.4,346.62 L227.5,346.61 L227.6,346.59 L227.7,346.58 L227.8,346.57 L227.9,346.56 L228,346.55 L228.1,346.53 L228.2,346.52 L228.3,346.51 L228.4,346.5 L228.5,346.48 L228.6,346.47 L228.7,346.45 L228.8,346.44 L228.9,346.42 L229,346.41 L229.1,346.39 L229.2,346.38 L229.3,346.36 L229.4,346.34 L229.5,346.33 L229.6,346.31 L229.7,346.29 L229.8,346.27 L229.9,346.26 L230,346.24 L230.1,346.22 L230.2,346.2 L230.3,346.18 L230.4,346.16 L230.5,346.14 L230.6,346.12 L230.7,346.1 L230.8,346.08 L230.9,346.05 L231,346.03 L231.1,346.01 L231.2,345.99 L231.3,345.96 L231.4,345.94 L231.5,345.92 L231.6,345.89 L231.7,345.87 L231.8,345.84 L231.9,345.81 L232,345.79 L232.1,345.76 L232.2,345.74 L232.3,345.71 L232.4,345.68 L232.5,345.65 L232.6,345.62 L232.7,345.6 L232.8,345.57 L232.9,345.54 L233,345.51 L233.1,345.48 L233.2,345.45 L233.3,345.42 L233.4,345.38 L233.5,345.35 L233.6,345.32 L233.7,345.29 L233.8,345.25 L233.9,345.22 L234,345.19 L234.1,345.15 L234.2,345.12 L234.3,345.08 L234.4,345.05 L234.5,345.01 L234.6,344.98 L234.7,344.94 L234.8,344.91 L234.9,344.87 L235,344.83 L235.1,344.8 L235.2,344.76 L235.3,344.72 L235.4,344.68 L235.5,344.64 L235.6,344.61 L235.7,344.57 L235.8,344.53 L235.9,344.49 L236,344.45 L236.1,344.41 L236.2,344.37 L236.3,344.33 L236.4,344.29 L236.5,344.25 L236.6,344.21 L236.7,344.16 L236.8,344.12 L236.9,344.08 L237,344.04 L237.1,344 L237.2,343.96 L237.3,343.92 L237.4,343.87 L237.5,343.83 L237.6,343.79 L237.7,343.75 L237.8,343.7 L237.9,343.66 L238,343.62 L238.1,343.58 L238.2,343.54 L238.3,343.49 L238.4,343.45 L238.5,343.41 L238.6,343.37 L238.7,343.32 L238.8,343.28 L238.9,343.24 L239,343.2 L239.1,343.16 L239.2,343.11 L239.3,343.07 L239.4,343.03 L239.5,342.99 L239.6,342.95 L239.7,342.91 L239.8,342.87 L239.9,342.83 L240,342.79 L240.1,342.74 L240.2,342.7 L240.3,342.66 L240.4,342.62 L240.5,342.58 L240.6,342.54 L240.7,342.5 L240.8,342.46 L240.9,342.42 L241,342.38 L241.1,342.34 L241.2,342.29 L241.3,342.25 L241.4,342.21 L241.5,342.16 L241.6,342.12 L241.7,342.07 L241.8,342.02 L241.9,341.97 L242,341.92 L242.1,341.87 L242.2,341.81 L242.3,341.75 L242.4,341.69 L242.5,341.62 L242.6,341.55 L242.7,341.48 L242.8,341.4 L242.9,341.32 L243,341.23 L243.1,341.14 L243.2,341.04 L243.3,340.94 L243.4,340.83 L243.5,340.71 L243.6,340.59 L243.7,340.47 L243.8,340.33 L243.9,340.19 L244,340.04 L244.1,339.89 L244.2,339.73 L244.3,339.57 L244.4,339.4 L244.5,339.23 L244.6,339.05 L244.7,338.87 L244.8,338.68 L244.9,338.49 L245,338.31 L245.1,338.12 L245.2,337.93 L245.3,337.74 L245.4,337.56 L245.5,337.37 L245.6,337.2 L245.7,337.02 L245.8,336.85 L245.9,336.69 L246,336.53 L246.1,336.39 L246.2,336.26 L246.3,336.14 L246.4,336.04 L246.5,335.95 L246.6,335.87 L246.7,335.8 L246.8,335.75 L246.9,335.71 L247,335.67 L247.1,335.64 L247.2,335.62 L247.3,335.59 L247.4,335.57 L247.5,335.54 L247.6,335.51 L247.7,335.46 L247.8,335.4 L247.9,335.33 L248,335.24 L248.1,335.12 L248.2,334.98 L248.3,334.81 L248.4,334.61 L248.5,334.37 L248.6,334.09 L248.7,333.77 L248.8,333.41 L248.9,333 L249,332.54 L249.1,332.04 L249.2,331.48 L249.3,330.88 L249.4,330.22 L249.5,329.51 L249.6,328.76 L249.7,327.95 L249.8,327.09 L249.9,326.19 L250,325.23 L250.1,324.24 L250.2,323.2 L250.3,322.12 L250.4,321.01 L250.5,319.85 L250.6,318.65 L250.7,317.42 L250.8,316.14 L250.9,314.81 L251,313.41 L251.1,311.95 L251.2,310.39 L251.3,308.69 L251.4,306.82 L251.5,304.71 L251.6,302.27 L251.7,299.36 L251.8,295.82 L251.9,291.46 L252,286.11 L252.1,279.83 L252.2,273.23 L252.3,267.82 L252.4,265.69 L252.5,267.92 L252.6,273.49 L252.7,280.34 L252.8,286.92 L252.9,292.63 L253,297.41 L253.1,301.41 L253.2,304.83 L253.3,307.82 L253.4,310.49 L253.5,312.95 L253.6,315.23 L253.7,317.38 L253.8,319.43 L253.9,321.39 L254,323.27 L254.1,325.07 L254.2,326.79 L254.3,328.44 L254.4,330 L254.5,331.49 L254.6,332.89 L254.7,334.21 L254.8,335.44 L254.9,336.6 L255,337.66 L255.1,338.65 L255.2,339.55 L255.3,340.38 L255.4,341.13 L255.5,341.81 L255.6,342.42 L255.7,342.97 L255.8,343.46 L255.9,343.9 L256,344.28 L256.1,344.62 L256.2,344.92 L256.3,345.18 L256.4,345.41 L256.5,345.6 L256.6,345.77 L256.7,345.92 L256.8,346.05 L256.9,346.15 L257,346.25 L257.1,346.32 L257.2,346.39 L257.3,346.45 L257.4,346.5 L257.5,346.54 L257.6,346.58 L257.7,346.61 L257.8,346.63 L257.9,346.66 L258,346.68 L258.1,346.69 L258.2,346.71 L258.3,346.72 L258.4,346.74 L258.5,346.75 L258.6,346.76 L258.7,346.77 L258.8,346.77 L258.9,346.78 L259,346.79 L259.1,346.8 L259.2,346.8 L259.3,346.81 L259.4,346.81 L259.5,346.82 L259.6,346.82 L259.7,346.83 L259.8,346.83 L259.9,346.84 L260,346.84 L260.1,346.85 L260.2,346.85 L260.3,346.85 L260.4,346.86 L260.5,346.86 L260.6,346.86 L260.7,346.87 L260.8,346.87 L260.9,346.87 L261,346.88 L261.1,346.88 L261.2,346.88 L261.3,346.89 L261.4,346.89 L261.5,346.89 L261.6,346.89 L261.7,346.89 L261.8,346.9 L261.9,346.9 L262,346.9 L262.1,346.9 L262.2,346.91 L262.3,346.91 L262.4,346.91 L262.5,346.91 L262.6,346.91 L262.7,346.91 L262.8,346.92 L262.9,346.92 L263,346.92 L263.1,346.92 L263.2,346.92 L263.3,346.92 L263.4,346.92 L263.5,346.93 L263.6,346.93 L263.7,346.93 L263.8,346.93 L263.9,346.93 L264,346.93 L264.1,346.93 L264.2,346.93 L264.3,346.94 L264.4,346.94 L264.5,346.94 L264.6,346.94 L264.7,346.94 L264.8,346.94 L264.9,346.94 L265,346.94 L265.1,346.94 L265.2,346.94 L265.3,346.95 L265.4,346.95 L265.5,346.95 L265.6,346.95 L265.7,346.95 L265.8,346.95 L265.9,346.95 L266,346.95 L266.1,346.95 L266.2,346.95 L266.3,346.95 L266.4,346.95 L266.5,346.95 L266.6,346.95 L266.7,346.96 L266.8,346.96 L266.9,346.96 L267,346.96 L267.1,346.96 L267.2,346.96 L267.3,346.96 L267.4,346.96 L267.5,346.96 L267.6,346.96 L267.7,346.96 L267.8,346.96 L267.9,346.96 L268,346.96 L268.1,346.96 L268.2,346.96 L268.3,346.96 L268.4,346.96 L268.5,346.96 L268.6,346.97 L268.7,346.97 L268.8,346.97 L268.9,346.97 L269,346.97 L269.1,346.97 L269.2,346.97 L269.3,346.97 L269.4,346.97 L269.5,346.97 L269.6,346.97 L269.7,346.97 L269.8,346.97 L269.9,346.97 L270,346.97 L270.1,346.97 L270.2,346.97 L270.3,346.97 L270.4,346.97 L270.5,346.97 L270.6,346.97 L270.7,346.97 L270.8,346.97 L270.9,346.97 L271,346.97 L271.1,346.97 L271.2,346.97 L271.3,346.97 L271.4,346.97 L271.5,346.98 L271.6,346.98 L271.7,346.98 L271.8,346.98 L271.9,346.98 L272,346.98 L272.1,346.98 L272.2,346.98 L272.3,346.98" fill="none" stroke="#cc7d33" stroke-width="1" stroke-linejoin="round" />
<path d="M209.6,346.99 L209.85,346.99 L210.1,346.99 L210.35,346.99 L210.6,346.99 L210.85,346.99 L211.1,346.99 L211.35,346.99 L211.6,346.99 L211.85,346.99 L212.1,346.99 L212.35,346.99 L212.6,346.99 L212.85,346.99 L213.1,346.99 L213.35,346.99 L213.6,346.99 L213.85,346.99 L214.1,346.99 L214.35,346.99 L214.6,346.99 L214.85,346.99 L215.1,346.99 L215.35,346.99 L215.6,346.99 L215.85,346.99 L216.1,346.99 L216.35,346.99 L216.6,346.99 L216.85,346.99 L217.1,346.98 L217.35,346.98 L217.6,346.98 L217.85,346.98 L218.1,346.98 L218.35,346.98 L218.6,346.98 L218.85,346.97 L219.1,346.97 L219.35,346.97 L219.6,346.97 L219.85,346.97 L220.1,346.96 L220.35,346.96 L220.6,346.96 L220.85,346.95 L221.1,346.95 L221.35,346.94 L221.6,346.94 L221.85,346.93 L222.1,346.93 L222.35,346.92 L222.6,346.91 L222.85,346.91 L223.1,346.9 L223.35,346.89 L223.6,346.88 L223.85,346.87 L224.1,346.86 L224.35,346.85 L224.6,346.83 L224.85,346.82 L225.1,346.81 L225.35,346.79 L225.6,346.77 L225.85,346.76 L226.1,346.74 L226.35,346.72 L226.6,346.7 L226.85,346.67 L227,346.66" fill="none" stroke="#7d8072" stroke-width="0.95" stroke-linejoin="round" />
<path d="M272.6,261.82 L273.09,261.65 L273.76,262.49 L274.56,261.8 L275.43,262.42 L276.33,262.25 L277.2,261.58 L278,261.56 L278.74,261.5 L279.49,261.5 L280.22,261.3 L280.95,261.11 L281.66,261.03 L282.34,261.23 L283,260.61 L283.89,260.32 L284.74,260.42 L285.55,259.68 L286.31,259.56 L287,260.13 L287.98,259.34 L288.8,259.13 L289.6,258.46 L290.43,259.12 L291.24,259.67 L292,259.27 L293.08,259.8 L294,259.45 L294.66,258.28 L295.2,258.34 L295.71,257.63 L296.2,257.6 L296.71,257.64 L297.3,258.73 L298.09,259.64 L299,259.47 L299.92,259.2 L301,259.19 L301.68,259.18 L302.44,258.03 L303.23,257.88 L304,257.7 L304.75,257.11 L305.5,256.89 L306.25,256.59 L307,256.46 L307.75,256.54 L308.5,256.09 L309.25,256.09 L310,256.5 L310.78,255.76 L311.59,256.52 L312.35,256.85 L313,256.39 L313.93,256.02 L314.6,255.83 L315.15,253.28 L315.6,251.16 L316.01,249.94 L316.4,249.52 L316.79,249.48 L317.2,251.3 L317.64,253.89 L318.1,257.37 L318.51,259.71 L319,262.39 L318.88,262.48 L320.5,262.82 L320.94,263.17 L321.46,263.43 L322.06,262.95 L322.72,262.69 L323.44,262.56 L324.21,262.98 L325.03,262.59 L325.87,263.23 L326.73,263.24 L327.6,262.48 L328.48,262.55 L329.35,263.1 L330.21,262.88 L331.04,263.02 L331.84,262.48 L332.59,262.21 L333.3,262.36 L333.94,262.88 L334.51,262.28 L335,262.35 L335.4,262.41" fill="none" stroke="#222" stroke-width="0.8" stroke-linejoin="round" />
<path d="M285,262.3C286.33,262.25 291.13,262.72 293,262C294.87,261.28 295.13,258 296.2,258C297.27,258 297.77,261.28 299.4,262C301.03,262.72 304.9,262.25 306,262.3" fill="none" stroke="#e0529c" stroke-width="0.75" stroke-dasharray="0.9,1.1"/>
<path d="M298,262.3C299,261.98 302.17,260.92 304,260.4C305.83,259.88 307.33,259.18 309,259.2C310.67,259.22 312.5,259.98 314,260.5C315.5,261.02 317.33,262 318,262.3" fill="none" stroke="#4a8ad8" stroke-width="0.75" stroke-dasharray="0.9,1.1"/>
<path d="M299,262.3C300,262.05 303.17,261.12 305,260.8C306.83,260.48 308.33,260.33 310,260.4C311.67,260.47 313.5,260.88 315,261.2C316.5,261.52 318.33,262.12 319,262.3" fill="none" stroke="#3aa878" stroke-width="0.75" stroke-dasharray="0.9,1.1"/>
<path d="M312,262.3C312.57,261.42 314.67,258.88 315.4,257C316.13,255.12 316.07,251 316.4,251C316.73,251 316.8,255.12 317.4,257C318,258.88 319.57,261.42 320,262.3" fill="none" stroke="#c040c0" stroke-width="0.75" stroke-dasharray="0.9,1.1"/>
<path d="M272.6,262.7C283.07,262.7 324.93,262.7 335.4,262.7" fill="none" stroke="#8a5ad0" stroke-width="0.75" stroke-dasharray="0.9,1.1"/>
<path d="M272.6,262.4 L273.02,262.37 L273.58,262.34 L274.25,262.3 L274.99,262.25 L275.77,262.2 L276.55,262.14 L277.31,262.07 L278,262 L278.65,261.92 L279.3,261.83 L279.95,261.74 L280.59,261.64 L281.22,261.53 L281.83,261.42 L282.43,261.31 L283,261.2 L283.74,261.04 L284.46,260.87 L285.15,260.69 L285.81,260.52 L286.43,260.35 L287,260.2 L287.75,259.97 L288.4,259.74 L289,259.57 L289.6,259.5 L290.43,259.68 L291.24,260.02 L292,260.2 L292.73,260.1 L293.41,259.84 L294,259.5 L294.66,258.77 L295.2,258 L295.71,257.26 L296.2,256.9 L296.71,257.52 L297.3,258.5 L298.09,259.54 L299,260.3 L299.61,260.28 L300.25,259.98 L301,259.6 L301.54,259.36 L302.13,259.07 L302.75,258.76 L303.38,258.47 L304,258.2 L304.6,257.96 L305.2,257.74 L305.8,257.54 L306.4,257.36 L307,257.2 L307.6,257.07 L308.2,256.96 L308.8,256.87 L309.4,256.82 L310,256.8 L310.62,256.86 L311.27,257 L311.9,257.15 L312.49,257.24 L313,257.2 L313.93,256.66 L314.6,255.5 L315.15,253.31 L315.6,251 L316.01,249.2 L316.4,248.3 L316.79,249.14 L317.2,251 L317.64,253.61 L318.1,256.5 L318.51,259.28 L319,261.5 L318.88,262.32 L320.5,262.5 L320.88,262.52 L321.32,262.53 L321.82,262.54 L322.38,262.55 L322.99,262.55 L323.63,262.55 L324.31,262.55 L325.03,262.54 L325.76,262.54 L326.51,262.53 L327.28,262.52 L328.04,262.51 L328.81,262.5 L329.57,262.49 L330.31,262.48 L331.04,262.47 L331.74,262.45 L332.41,262.44 L333.04,262.43 L333.62,262.42 L334.16,262.42 L334.64,262.41 L335.05,262.4 L335.4,262.4" fill="none" stroke="#e8852a" stroke-width="0.9" stroke-linejoin="round" />
<path d="M299,259.92 L299.81,259.5 L301,259.42 L301.68,258.32 L302.44,257.8 L303.23,258.37 L304,257.98 L304.75,257.79 L305.5,256.97 L306.25,257.25 L307,257.03 L307.75,256.16 L308.5,256.56 L309.25,256.57 L310,256.36 L310.79,256.3 L311.6,256.23 L312.36,256.42 L313,256.33 L313.89,255.69 L314.4,255.69" fill="none" stroke="#222" stroke-width="0.9" stroke-linejoin="round" />
<path d="M291,262C291.42,261.83 292.8,261.58 293.5,261C294.2,260.42 294.75,259.18 295.2,258.5C295.65,257.82 295.87,256.9 296.2,256.9C296.53,256.9 296.77,257.82 297.2,258.5C297.63,259.18 298.17,260.42 298.8,261C299.43,261.58 300.63,261.83 301,262" fill="none" stroke="#e0409a" stroke-width="0.8" stroke-linejoin="round" />
<path d="M272.6,344.24 L273.21,344.74 L274.08,343.64 L275.06,344.46 L276,344.03 L276.69,344.23 L277.37,344.15 L278.07,344.11 L278.81,343.61 L279.6,342.72 L280.35,343.32 L281.18,342.3 L282.04,342.07 L282.88,342.08 L283.65,341.44 L284.3,340.8 L285.23,340.19 L285.89,338.39 L286.5,336.81 L287.43,335.02 L288.3,334.93 L289.11,335.57 L290,337.84 L290.76,338.86 L291.59,340.32 L292.4,341.44 L293.16,340.93 L293.9,338.39 L294.6,337.35 L295.59,334.73 L296.5,332.87 L297.27,334.35 L298,335.91 L298.69,339.18 L299.5,341.04 L300.26,339.45 L301.13,338.24 L302,336.72 L302.86,335.67 L303.73,334.13 L304.5,332.97 L305.36,331.76 L306.2,330.1 L306.91,330.71 L307.7,331.92 L308.5,333.05 L309.31,333.96 L310.14,336.05 L311,336.93 L311.94,337.38 L312.91,339.29 L313.7,339.48 L314.37,337.26 L314.8,333.82 L315.18,330.68 L315.5,327.1 L315.8,323.19 L316.1,320.93 L316.43,322.96 L316.8,326.55 L317.27,331.92 L317.8,337.26 L318.37,341.39 L319,344.5 L318.89,345.83 L320.5,346.25 L320.94,346.55 L321.46,346.78 L322.06,346.31 L322.72,346.82 L323.44,346.61 L324.21,346.37 L325.03,346.29 L325.87,346.43 L326.73,346.66 L327.6,346.3 L328.48,346.61 L329.35,346.31 L330.21,346.03 L331.04,346.35 L331.84,346.52 L332.59,345.75 L333.3,346.16 L333.94,346.14 L334.51,346.67 L335,346.73 L335.4,346.05" fill="none" stroke="#222" stroke-width="0.8" stroke-linejoin="round" />
<path d="M282,346.6C282.58,346.17 284.45,346 285.5,344C286.55,342 287.38,334.6 288.3,334.6C289.22,334.6 289.97,342 291,344C292.03,346 293.92,346.17 294.5,346.6" fill="none" stroke="#e0529c" stroke-width="0.75" stroke-dasharray="0.9,1.1"/>
<path d="M291,346.6C291.5,346.17 293.08,346.33 294,344C294.92,341.67 295.67,332.6 296.5,332.6C297.33,332.6 298.08,341.67 299,344C299.92,346.33 301.5,346.17 302,346.6" fill="none" stroke="#c040c0" stroke-width="0.75" stroke-dasharray="0.9,1.1"/>
<path d="M295,346.6C295.83,346 298.5,344.77 300,343C301.5,341.23 302.92,337.5 304,336C305.08,334.5 305.5,333.83 306.5,334C307.5,334.17 308.83,335.5 310,337C311.17,338.5 312.33,341.4 313.5,343C314.67,344.6 316.42,346 317,346.6" fill="none" stroke="#3aa878" stroke-width="0.75" stroke-dasharray="0.9,1.1"/>
<path d="M305,346.6C305.83,346.33 308.58,345.93 310,345C311.42,344.07 312.58,342.08 313.5,341C314.42,339.92 314.83,338.33 315.5,338.5C316.17,338.67 316.75,340.65 317.5,342C318.25,343.35 319.58,345.83 320,346.6" fill="none" stroke="#4a8ad8" stroke-width="0.75" stroke-dasharray="0.9,1.1"/>
<path d="M311,346.6C311.6,345.5 313.75,343.77 314.6,340C315.45,336.23 315.6,324 316.1,324C316.6,324 316.78,336.23 317.6,340C318.42,343.77 320.43,345.5 321,346.6" fill="none" stroke="#d040c8" stroke-width="0.75" stroke-dasharray="0.9,1.1"/>
<path d="M272.6,346.8C283.07,346.8 324.93,346.8 335.4,346.8" fill="none" stroke="#8a5ad0" stroke-width="0.75" stroke-dasharray="0.9,1.1"/>
<path d="M272.6,346.2 L272.97,346.2 L273.46,346.19 L274.03,346.19 L274.68,346.19 L275.38,346.19 L276.11,346.18 L276.85,346.18 L277.59,346.17 L278.29,346.16 L278.94,346.14 L279.51,346.12 L280,346.1 L280.9,346.08 L281.56,346.08 L282.08,346.04 L282.53,345.9 L283,345.6 L283.76,344.68 L284.4,343.42 L285,342 L285.82,339.51 L286.6,337 L287.44,334.54 L288.3,333.3 L289.18,335.11 L290,338 L290.69,340.73 L291.3,343 L291.8,343.94 L292.3,344 L292.93,343.44 L293.6,342 L294.29,339.16 L295,336 L295.75,333.04 L296.5,331.4 L297.19,333.11 L297.9,336 L298.66,338.86 L299.5,340.9 L300.12,340.85 L300.78,340.04 L301.5,339 L302.1,338.11 L302.74,337.03 L303.38,335.94 L304,335 L304.75,333.93 L305.47,333.04 L306.2,332.6 L306.95,332.83 L307.71,333.51 L308.5,334.3 L309.11,334.89 L309.72,335.56 L310.36,336.27 L311,337 L311.7,337.99 L312.44,339.16 L313.13,340.05 L313.7,340.2 L314.37,337.8 L314.8,334 L315.18,329.97 L315.5,326 L315.8,322.29 L316.1,320.3 L316.43,322.17 L316.8,326 L317.27,330.82 L317.8,336 L318.37,340.77 L319,344.5 L318.89,345.88 L320.5,346.2 L320.88,346.23 L321.32,346.26 L321.82,346.29 L322.38,346.31 L322.99,346.33 L323.63,346.34 L324.31,346.35 L325.03,346.36 L325.76,346.36 L326.51,346.36 L327.28,346.36 L328.04,346.36 L328.81,346.35 L329.57,346.35 L330.31,346.34 L331.04,346.33 L331.74,346.33 L332.41,346.32 L333.04,346.31 L333.62,346.31 L334.16,346.3 L334.64,346.3 L335.05,346.3 L335.4,346.3" fill="none" stroke="#e8852a" stroke-width="1" stroke-linejoin="round" />
<text x="351.6" y="225.6" font-size="12.5" text-anchor="start" font-weight="bold" fill="#000" stroke="#000" stroke-width="0.35" textLength="8.17" lengthAdjust="spacingAndGlyphs">g</text>
<line x1="385.4" y1="348.8" x2="385.4" y2="351.8" stroke="#8c8c8c" stroke-width="0.8" />
<text transform="translate(388.1,358.9) rotate(-45)" font-size="9" text-anchor="end" fill="#231f20" textLength="21.39" lengthAdjust="spacingAndGlyphs">4,000</text>
<line x1="409.4" y1="348.8" x2="409.4" y2="351.8" stroke="#8c8c8c" stroke-width="0.8" />
<text transform="translate(412.1,358.9) rotate(-45)" font-size="9" text-anchor="end" fill="#231f20" textLength="21.39" lengthAdjust="spacingAndGlyphs">3,800</text>
<line x1="433.4" y1="348.8" x2="433.4" y2="351.8" stroke="#8c8c8c" stroke-width="0.8" />
<text transform="translate(436.1,358.9) rotate(-45)" font-size="9" text-anchor="end" fill="#231f20" textLength="21.39" lengthAdjust="spacingAndGlyphs">3,600</text>
<line x1="457.4" y1="348.8" x2="457.4" y2="351.8" stroke="#8c8c8c" stroke-width="0.8" />
<text transform="translate(460.1,358.9) rotate(-45)" font-size="9" text-anchor="end" fill="#231f20" textLength="21.39" lengthAdjust="spacingAndGlyphs">3,400</text>
<line x1="481.4" y1="348.8" x2="481.4" y2="351.8" stroke="#8c8c8c" stroke-width="0.8" />
<text transform="translate(484.1,358.9) rotate(-45)" font-size="9" text-anchor="end" fill="#231f20" textLength="21.39" lengthAdjust="spacingAndGlyphs">3,200</text>
<line x1="505.4" y1="348.8" x2="505.4" y2="351.8" stroke="#8c8c8c" stroke-width="0.8" />
<text transform="translate(508.1,358.9) rotate(-45)" font-size="9" text-anchor="end" fill="#231f20" textLength="21.39" lengthAdjust="spacingAndGlyphs">3,000</text>
<text x="445.4" y="383.6" font-size="8.6" text-anchor="middle" font-weight="normal" fill="#231f20" textLength="79.8" lengthAdjust="spacingAndGlyphs">Wavenumber (cm<tspan font-size="6.0" dy="-3.5">−1</tspan><tspan dy="3.5">)</tspan></text>
<text transform="translate(378.2,289) rotate(-90)" font-size="8.6" text-anchor="middle" fill="#231f20" textLength="58.5" lengthAdjust="spacingAndGlyphs">Intensity (a.u.)</text>
<rect x="385.4" y="229.2" width="120" height="119.6" fill="none" stroke="#8c8c8c" stroke-width="0.8"/>
<path d="M385.4,303.66 L385.74,303.47 L386.15,302.88 L386.63,302.92 L387.16,302.47 L387.74,302.93 L388.37,302.62 L389.02,302.64 L389.7,302.36 L390.39,302.06 L391.1,301.92 L391.8,301.57 L392.49,300.96 L393.16,301.21 L393.81,300.5 L394.43,300.44 L395,300.85 L395.67,300 L396.33,299.85 L396.98,299.68 L397.61,300.21 L398.24,299.4 L398.86,299.09 L399.47,299.65 L400.07,298.83 L400.66,299.3 L401.25,298.96 L401.84,298.91 L402.42,298.82 L403,298.27 L403.69,298.21 L404.39,297.25 L405.09,297.62 L405.79,297.1 L406.47,296.98 L407.15,296.13 L407.79,296.41 L408.41,296.27 L408.98,295.19 L409.52,295.13 L410,295.06 L410.88,294.71 L411.55,293.65 L412.08,293.05 L412.54,292.5 L413,292.1 L413.7,291.27 L414.27,289.76 L414.8,286.88 L415.53,277.26 L416.2,266.87 L416.9,260.18 L417.6,256.02 L418.29,256.94 L419,259.93 L419.73,262.14 L420.5,265.22 L421.27,266.63 L422.2,268.77 L422.8,269.72 L423.48,270.54 L424.22,271.25 L425,271.99 L425.56,272.61 L426.15,273.3 L426.76,273.07 L427.39,273.4 L428,274.3 L428.6,274.67 L429.28,274.43 L429.95,274.34 L430.61,274.48 L431.28,273.85 L432,273.79 L432.64,273.62 L433.31,273.83 L434,273.44 L434.69,273.21 L435.36,273.49 L436,273.61 L436.7,272.85 L437.35,273 L437.98,272.57 L438.65,272.93 L439.4,272.88 L440,272.89 L440.63,273.51 L441.29,274.01 L441.97,274.59 L442.66,275.21 L443.34,275.85 L444,276.5 L444.65,277.18 L445.29,277.92 L445.94,278.69 L446.58,279.49 L447.22,280.28 L447.86,281.06 L448.5,281.8 L449.14,282.5 L449.78,283.17 L450.42,283.83 L451.06,284.48 L451.71,285.14 L452.35,285.81 L453,286.5 L453.65,287.23 L454.31,287.98 L454.97,288.75 L455.64,289.52 L456.3,290.28 L456.95,291.01 L457.6,291.7 L458.24,292.35 L458.88,292.98 L459.52,293.58 L460.15,294.16 L460.78,294.73 L461.39,295.27 L462,295.8 L462.69,296.39 L463.36,296.96 L464.02,297.5 L464.68,298.02 L465.34,298.52 L466,299 L466.66,299.45 L467.3,299.87 L467.94,300.28 L468.59,300.67 L469.28,301.07 L470,301.5 L470.58,301.84 L471.18,302.19 L471.8,302.55 L472.44,302.91 L473.08,303.27 L473.73,303.63 L474.37,303.97 L475,304.3 L475.59,304.6 L476.13,304.88 L476.66,305.14 L477.19,305.4 L477.76,305.66 L478.4,305.95 L479.14,306.25 L480,306.6 L480.48,306.79 L480.97,307 L481.49,307.21 L482.02,307.44 L482.57,307.67 L483.15,307.91 L483.74,308.15 L484.35,308.39 L484.98,308.64 L485.63,308.88 L486.31,309.12 L487,309.35 L487.72,309.58 L488.46,309.8 L489.22,310.01 L490,310.2 L490.53,310.32 L491.09,310.44 L491.69,310.56 L492.32,310.68 L492.98,310.8 L493.66,310.91 L494.35,311.03 L495.06,311.14 L495.78,311.25 L496.51,311.36 L497.24,311.47 L497.96,311.57 L498.68,311.68 L499.39,311.77 L500.09,311.87 L500.77,311.96 L501.42,312.05 L502.05,312.14 L502.65,312.22 L503.22,312.29 L503.75,312.36 L504.23,312.43 L504.67,312.49 L505.06,312.55 L505.4,312.6" fill="none" stroke="#3a3a3a" stroke-width="0.95" stroke-linejoin="round" />
<path d="M385.4,311.75 L385.73,311.56 L386.12,311.96 L386.56,311.85 L387.04,311.65 L387.57,311.8 L388.13,311.75 L388.73,312.14 L389.36,311.55 L390.01,312.3 L390.68,311.81 L391.37,311.9 L392.07,311.76 L392.79,312.06 L393.5,312.03 L394.22,311.76 L394.93,311.66 L395.64,311.85 L396.33,311.94 L397.01,311.5 L397.66,311.76 L398.3,311.93 L398.9,311.45 L399.47,311.2 L400,311.16 L400.76,311.53 L401.52,311.42 L402.26,311.61 L402.99,311.43 L403.7,310.8 L404.39,310.67 L405.07,310.65 L405.73,310.49 L406.36,310.87 L406.96,310.91 L407.55,310.85 L408.1,310.18 L408.62,310.63 L409.12,310.03 L409.58,310.03 L410,310.21 L411.07,309.33 L411.76,309.06 L412.22,309.41 L412.59,308.53 L413,308.07 L413.7,307.3 L414.27,306.15 L414.8,303.56 L415.55,298.43 L416.2,292.94 L416.72,289.42 L417.2,287.34 L417.72,288.29 L418.3,290.91 L418.98,294.35 L419.8,298.54 L420.27,299.8 L420.81,301.11 L422,302.35 L422.42,302.03 L422.89,302.88 L423.41,303.03 L423.97,302.41 L424.56,303.27 L425.19,302.84 L425.84,303.27 L426.51,303.33 L427.2,302.97 L427.9,303.37 L428.6,303.41 L429.3,303.61 L430,303.19 L430.57,303.68 L431.15,303.91 L431.75,303.69 L432.36,303.59 L432.98,303.24 L433.6,303.6 L434.24,303.5 L434.88,303.85 L435.52,303.83 L436.16,303.76 L436.81,303.44 L437.45,303.9 L438.1,303.93 L438.74,303.57 L439.37,304.28 L440,304.14 L440.62,304.08 L441.25,304.17 L441.88,304.26 L442.5,304.35 L443.12,304.45 L443.75,304.56 L444.38,304.67 L445,304.79 L445.62,304.91 L446.25,305.04 L446.88,305.18 L447.5,305.33 L448.12,305.48 L448.75,305.64 L449.38,305.82 L450,306 L450.62,306.19 L451.25,306.4 L451.88,306.62 L452.5,306.85 L453.12,307.1 L453.75,307.34 L454.38,307.6 L455,307.86 L455.62,308.13 L456.25,308.4 L456.88,308.67 L457.5,308.94 L458.12,309.21 L458.75,309.48 L459.38,309.74 L460,310 L460.62,310.26 L461.25,310.52 L461.88,310.79 L462.5,311.06 L463.12,311.33 L463.75,311.61 L464.38,311.88 L465,312.16 L465.62,312.43 L466.25,312.7 L466.88,312.96 L467.5,313.22 L468.12,313.48 L468.75,313.73 L469.38,313.97 L470,314.2 L470.62,314.43 L471.24,314.65 L471.85,314.87 L472.45,315.09 L473.06,315.3 L473.66,315.5 L474.27,315.71 L474.88,315.91 L475.49,316.1 L476.1,316.29 L476.73,316.47 L477.36,316.65 L478,316.82 L478.65,316.99 L479.32,317.15 L480,317.3 L480.55,317.42 L481.11,317.53 L481.68,317.64 L482.25,317.75 L482.83,317.85 L483.41,317.95 L484,318.04 L484.59,318.13 L485.19,318.22 L485.79,318.31 L486.39,318.39 L487,318.47 L487.62,318.54 L488.23,318.61 L488.85,318.69 L489.48,318.75 L490.11,318.82 L490.73,318.88 L491.37,318.94 L492,319 L492.59,319.05 L493.22,319.1 L493.86,319.14 L494.53,319.18 L495.22,319.22 L495.92,319.26 L496.62,319.29 L497.33,319.32 L498.04,319.35 L498.75,319.38 L499.45,319.41 L500.14,319.43 L500.81,319.45 L501.45,319.47 L502.08,319.49 L502.67,319.51 L503.24,319.53 L503.76,319.54 L504.24,319.56 L504.68,319.57 L505.07,319.59 L505.4,319.6" fill="none" stroke="#ec3b3b" stroke-width="1" stroke-linejoin="round" />
<line x1="439.4" y1="265" x2="439.4" y2="318.6" stroke="#444" stroke-width="0.7" stroke-dasharray="2,1.3"/>
<text x="443.8" y="269.4" font-size="8.6" text-anchor="start" font-weight="normal" fill="#231f20" textLength="47" lengthAdjust="spacingAndGlyphs">Silanol nest</text>
<line x1="461" y1="237.2" x2="468.6" y2="237.2" stroke="#3a3a3a" stroke-width="0.9" />
<line x1="461" y1="246" x2="468.6" y2="246" stroke="#ec3b3b" stroke-width="0.9" />
<text x="472.5" y="240" font-size="8.6" text-anchor="start" font-weight="normal" fill="#231f20" textLength="12.2" lengthAdjust="spacingAndGlyphs">S-1</text>
<text x="472.5" y="248.9" font-size="8.6" text-anchor="start" font-weight="normal" fill="#231f20" textLength="20.8" lengthAdjust="spacingAndGlyphs">S-1_F</text>
<text x="527.6" y="225.6" font-size="12.5" text-anchor="start" font-weight="bold" fill="#000" stroke="#000" stroke-width="0.35" textLength="8.17" lengthAdjust="spacingAndGlyphs">h</text>
<line x1="562" y1="348.8" x2="562" y2="351.8" stroke="#8c8c8c" stroke-width="0.8" />
<text transform="translate(564.7,358.9) rotate(-45)" font-size="9" text-anchor="end" fill="#231f20" textLength="21.39" lengthAdjust="spacingAndGlyphs">4,000</text>
<line x1="585.9" y1="348.8" x2="585.9" y2="351.8" stroke="#8c8c8c" stroke-width="0.8" />
<text transform="translate(588.6,358.9) rotate(-45)" font-size="9" text-anchor="end" fill="#231f20" textLength="21.39" lengthAdjust="spacingAndGlyphs">3,800</text>
<line x1="609.8" y1="348.8" x2="609.8" y2="351.8" stroke="#8c8c8c" stroke-width="0.8" />
<text transform="translate(612.5,358.9) rotate(-45)" font-size="9" text-anchor="end" fill="#231f20" textLength="21.39" lengthAdjust="spacingAndGlyphs">3,600</text>
<line x1="633.7" y1="348.8" x2="633.7" y2="351.8" stroke="#8c8c8c" stroke-width="0.8" />
<text transform="translate(636.4,358.9) rotate(-45)" font-size="9" text-anchor="end" fill="#231f20" textLength="21.39" lengthAdjust="spacingAndGlyphs">3,400</text>
<line x1="657.6" y1="348.8" x2="657.6" y2="351.8" stroke="#8c8c8c" stroke-width="0.8" />
<text transform="translate(660.3,358.9) rotate(-45)" font-size="9" text-anchor="end" fill="#231f20" textLength="21.39" lengthAdjust="spacingAndGlyphs">3,200</text>
<line x1="681.5" y1="348.8" x2="681.5" y2="351.8" stroke="#8c8c8c" stroke-width="0.8" />
<text transform="translate(684.2,358.9) rotate(-45)" font-size="9" text-anchor="end" fill="#231f20" textLength="21.39" lengthAdjust="spacingAndGlyphs">3,000</text>
<text x="621.75" y="383.6" font-size="8.6" text-anchor="middle" font-weight="normal" fill="#231f20" textLength="79.8" lengthAdjust="spacingAndGlyphs">Wavenumber (cm<tspan font-size="6.0" dy="-3.5">−1</tspan><tspan dy="3.5">)</tspan></text>
<text transform="translate(554.8,289) rotate(-90)" font-size="8.6" text-anchor="middle" fill="#231f20" textLength="58.5" lengthAdjust="spacingAndGlyphs">Intensity (a.u.)</text>
<rect x="562" y="229.2" width="119.5" height="119.6" fill="none" stroke="#8c8c8c" stroke-width="0.8"/>
<path d="M562,300.66 L562.34,301.27 L562.72,300.42 L563.16,300.44 L563.64,300.62 L564.16,300.33 L564.72,300.09 L565.32,299.97 L565.94,299.58 L566.59,299.22 L567.26,298.86 L567.95,298.52 L568.66,298.86 L569.38,298.64 L570.1,298.2 L570.83,298.12 L571.55,297.52 L572.28,297.18 L572.99,297.04 L573.7,297.23 L574.39,296.24 L575.06,296.43 L575.71,295.97 L576.33,296.22 L576.92,295.64 L577.48,295.43 L578,295.31 L578.8,295.17 L579.58,295.13 L580.35,294.52 L581.09,294.75 L581.8,293.88 L582.5,293.83 L583.17,293.49 L583.81,293.31 L584.43,293.73 L585.03,293.5 L585.59,292.82 L586.13,292.63 L586.64,292.63 L587.13,292.71 L587.58,292.54 L588,292.22 L589.06,291.35 L589.75,290.28 L590.21,289.71 L590.58,288.39 L591,287.02 L591.76,282.53 L592.41,276.55 L593,271.78 L593.74,267.2 L594.4,263.98 L595.1,266.43 L595.8,269.85 L596.41,272.81 L597.2,274.49 L597.68,274.91 L598.19,274.76 L598.9,274.43 L600,274.43 L600.44,274.1 L600.94,273.67 L601.49,274.09 L602.08,273.66 L602.7,273.66 L603.34,273.68 L604.01,272.93 L604.69,273.53 L605.37,273.35 L606.05,273.12 L606.72,273.09 L607.37,272.99 L608,272.72 L608.62,273.02 L609.25,272.57 L609.89,272.99 L610.53,273.14 L611.17,272.98 L611.81,273.13 L612.44,273.52 L613.07,273.52 L613.69,272.9 L614.29,273.57 L614.88,273.5 L615.45,273.09 L616,273.47 L616.68,273.76 L617.33,273.95 L617.95,274.16 L618.54,274.39 L619.12,274.64 L619.7,274.9 L620.26,275.16 L620.83,275.44 L621.41,275.72 L622,276 L622.58,276.27 L623.14,276.53 L623.67,276.79 L624.21,277.05 L624.75,277.32 L625.31,277.62 L625.91,277.95 L626.54,278.32 L627.24,278.73 L628,279.2 L628.52,279.53 L629.06,279.88 L629.63,280.25 L630.22,280.64 L630.83,281.05 L631.46,281.48 L632.1,281.92 L632.75,282.36 L633.41,282.82 L634.07,283.28 L634.74,283.74 L635.41,284.2 L636.07,284.66 L636.72,285.12 L637.37,285.56 L638,286 L638.62,286.44 L639.25,286.88 L639.88,287.33 L640.5,287.78 L641.12,288.24 L641.75,288.7 L642.38,289.16 L643,289.61 L643.62,290.07 L644.25,290.51 L644.88,290.95 L645.5,291.39 L646.12,291.81 L646.75,292.22 L647.38,292.62 L648,293 L648.62,293.37 L649.25,293.73 L649.88,294.09 L650.5,294.44 L651.12,294.78 L651.75,295.11 L652.38,295.43 L653,295.75 L653.62,296.06 L654.25,296.36 L654.88,296.65 L655.5,296.94 L656.12,297.21 L656.75,297.48 L657.38,297.75 L658,298 L658.62,298.25 L659.23,298.48 L659.83,298.71 L660.42,298.93 L661.01,299.14 L661.6,299.34 L662.19,299.54 L662.78,299.72 L663.38,299.91 L663.99,300.08 L664.62,300.25 L665.25,300.41 L665.91,300.57 L666.58,300.72 L667.28,300.86 L668,301 L668.55,301.1 L669.15,301.19 L669.77,301.28 L670.42,301.37 L671.1,301.45 L671.79,301.54 L672.5,301.61 L673.22,301.69 L673.94,301.76 L674.66,301.82 L675.38,301.89 L676.08,301.95 L676.77,302.01 L677.44,302.06 L678.08,302.11 L678.7,302.16 L679.28,302.21 L679.82,302.25 L680.32,302.29 L680.77,302.33 L681.16,302.37 L681.5,302.4" fill="none" stroke="#3a3a3a" stroke-width="0.95" stroke-linejoin="round" />
<path d="M562,323.89 L562.34,323.71 L562.72,323.75 L563.16,323.74 L563.64,323.33 L564.16,323.36 L564.72,323.08 L565.32,322.64 L565.94,322.71 L566.59,322.37 L567.26,322.25 L567.95,321.92 L568.66,321.67 L569.38,321.25 L570.1,321.17 L570.83,320.95 L571.55,320.65 L572.28,320.21 L572.99,320.07 L573.7,319.7 L574.39,319.28 L575.06,319 L575.71,318.76 L576.33,318.56 L576.92,318.31 L577.48,318.22 L578,318.08 L578.8,317.68 L579.58,317.31 L580.35,317.08 L581.09,316.64 L581.8,316.4 L582.5,316.22 L583.17,315.78 L583.81,315.4 L584.43,315.4 L585.03,315.03 L585.59,314.59 L586.13,314.28 L586.64,314.03 L587.13,313.73 L587.58,313.24 L588,312.8 L589.06,311.8 L589.75,310.98 L590.21,309.57 L590.58,308.29 L591,306.38 L591.76,302.03 L592.41,296.83 L593,292.46 L593.74,287.37 L594.4,284.81 L595.1,287 L595.8,290.87 L596.41,294.25 L597.2,296.82 L597.68,297.59 L598.19,298.23 L598.9,298.56 L600,299.08 L600.44,299.15 L600.94,299.31 L601.49,299.46 L602.08,299.62 L602.7,299.77 L603.34,299.92 L604.01,300.08 L604.69,300.23 L605.37,300.38 L606.05,300.54 L606.72,300.69 L607.37,300.85 L608,301 L608.6,301.14 L609.19,301.27 L609.76,301.38 L610.33,301.48 L610.89,301.59 L611.46,301.69 L612.04,301.81 L612.63,301.94 L613.24,302.09 L613.88,302.27 L614.55,302.47 L615.25,302.72 L616,303 L616.51,303.21 L617.05,303.44 L617.6,303.68 L618.18,303.94 L618.77,304.22 L619.37,304.51 L619.98,304.8 L620.61,305.11 L621.24,305.43 L621.88,305.75 L622.51,306.08 L623.15,306.41 L623.79,306.74 L624.42,307.07 L625.05,307.41 L625.66,307.74 L626.27,308.06 L626.86,308.38 L627.44,308.7 L628,309 L628.68,309.38 L629.35,309.75 L630,310.12 L630.64,310.5 L631.27,310.88 L631.9,311.25 L632.51,311.62 L633.12,312 L633.73,312.38 L634.34,312.75 L634.94,313.12 L635.55,313.5 L636.15,313.88 L636.76,314.25 L637.38,314.62 L638,315 L638.62,315.38 L639.25,315.77 L639.88,316.16 L640.5,316.56 L641.12,316.96 L641.75,317.36 L642.38,317.76 L643,318.16 L643.62,318.55 L644.25,318.94 L644.88,319.32 L645.5,319.68 L646.12,320.04 L646.75,320.37 L647.38,320.7 L648,321 L648.62,321.29 L649.25,321.56 L649.88,321.82 L650.5,322.08 L651.12,322.31 L651.75,322.54 L652.38,322.76 L653,322.98 L653.62,323.18 L654.25,323.37 L654.88,323.56 L655.5,323.74 L656.12,323.91 L656.75,324.08 L657.38,324.24 L658,324.4 L658.62,324.55 L659.23,324.69 L659.83,324.81 L660.42,324.93 L661.01,325.04 L661.6,325.14 L662.19,325.24 L662.78,325.32 L663.38,325.41 L663.99,325.49 L664.62,325.58 L665.25,325.66 L665.91,325.74 L666.58,325.82 L667.28,325.91 L668,326 L668.55,326.07 L669.15,326.14 L669.77,326.21 L670.42,326.29 L671.1,326.36 L671.79,326.43 L672.5,326.51 L673.22,326.58 L673.94,326.66 L674.66,326.73 L675.38,326.8 L676.08,326.87 L676.77,326.94 L677.44,327 L678.08,327.06 L678.7,327.12 L679.28,327.18 L679.82,327.23 L680.32,327.28 L680.77,327.33 L681.16,327.37 L681.5,327.4" fill="none" stroke="#ec3b3b" stroke-width="1" stroke-linejoin="round" />
<line x1="616" y1="267" x2="616" y2="313" stroke="#777" stroke-width="0.75" stroke-dasharray="2,1.3"/>
<text x="621.4" y="269.4" font-size="8.6" text-anchor="start" font-weight="normal" fill="#231f20" textLength="46.8" lengthAdjust="spacingAndGlyphs">Silanol nest</text>
<line x1="611.6" y1="237.2" x2="619" y2="237.2" stroke="#3a3a3a" stroke-width="0.9" />
<line x1="611.6" y1="246" x2="619" y2="246" stroke="#ec3b3b" stroke-width="0.9" />
<text x="623" y="240" font-size="8.6" text-anchor="start" font-weight="normal" fill="#231f20" textLength="51.2" lengthAdjust="spacingAndGlyphs">Deal Beta-25</text>
<text x="623" y="248.9" font-size="8.6" text-anchor="start" font-weight="normal" fill="#231f20" textLength="55.6" lengthAdjust="spacingAndGlyphs">Deal Beta-150</text>
</svg>
</body></html>
